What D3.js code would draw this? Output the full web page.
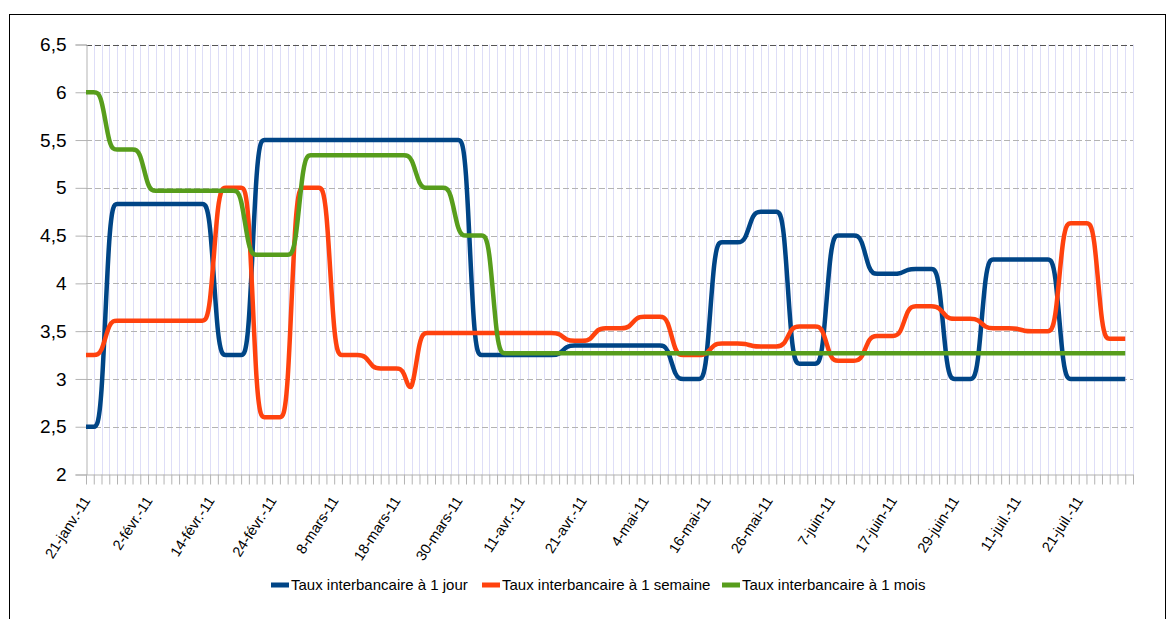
<!DOCTYPE html>
<html>
	<head>
		<title>Taux interbancaires</title>
		<meta charset="UTF-8">
		<style>
			body { margin: 0; background: #fff; }
			text { font-family: "Liberation Sans", Arial, sans-serif; fill: #000; }
		</style>
	</head>
	<body>
		<script src="https://d3js.org/d3.v7.min.js"></script>
		<svg width="1169" height="619"></svg>
		<script>

			// one value per business day, from 21-janv.-11
			var tauxJour = [
				2.5,2.5,2.5,4.83,4.83,4.83,4.83,4.83,4.83,4.83,
				4.83,4.83,4.83,4.83,4.83,4.83,4.83,3.25,3.25,3.25,
				3.25,3.25,5.5,5.5,5.5,5.5,5.5,5.5,5.5,5.5,
				5.5,5.5,5.5,5.5,5.5,5.5,5.5,5.5,5.5,5.5,
				5.5,5.5,5.5,5.5,5.5,5.5,5.5,5.5,5.5,5.5,
				3.25,3.25,3.25,3.25,3.25,3.25,3.25,3.25,3.25,3.25,
				3.25,3.25,3.35,3.35,3.35,3.35,3.35,3.35,3.35,3.35,
				3.35,3.35,3.35,3.35,3.35,3.35,3.0,3.0,3.0,3.0,
				3.0,4.43,4.43,4.43,4.43,4.43,4.75,4.75,4.75,4.75,
				4.75,3.16,3.16,3.16,3.16,3.16,4.5,4.5,4.5,4.5,
				4.5,4.1,4.1,4.1,4.1,4.1,4.15,4.15,4.15,4.15,
				4.15,3.0,3.0,3.0,3.0,3.0,4.25,4.25,4.25,4.25,
				4.25,4.25,4.25,4.25,4.25,4.25,3.0,3.0,3.0,3.0,
				3.0,3.0,3.0,3.0,3.0
			];

			var tauxSemaine = [
				3.25,3.25,3.25,3.61,3.61,3.61,3.61,3.61,3.61,3.61,
				3.61,3.61,3.61,3.61,3.61,3.61,3.61,5.0,5.0,5.0,
				5.0,5.0,2.6,2.6,2.6,2.6,2.6,5.0,5.0,5.0,
				5.0,5.0,3.25,3.25,3.25,3.25,3.25,3.11,3.11,3.11,
				3.11,3.11,2.75,3.48,3.48,3.48,3.48,3.48,3.48,3.48,
				3.48,3.48,3.48,3.48,3.48,3.48,3.48,3.48,3.48,3.48,
				3.48,3.48,3.4,3.4,3.4,3.4,3.53,3.53,3.53,3.53,
				3.53,3.65,3.65,3.65,3.65,3.65,3.25,3.25,3.25,3.25,
				3.25,3.37,3.37,3.37,3.37,3.37,3.34,3.34,3.34,3.34,
				3.34,3.55,3.55,3.55,3.55,3.55,3.19,3.19,3.19,3.19,
				3.19,3.45,3.45,3.45,3.45,3.45,3.76,3.76,3.76,3.76,
				3.76,3.63,3.63,3.63,3.63,3.63,3.53,3.53,3.53,3.53,
				3.53,3.5,3.5,3.5,3.5,3.5,4.63,4.63,4.63,4.63,
				4.63,3.42,3.42,3.42,3.42
			];

			var tauxMois = [
				6.0,6.0,6.0,5.4,5.4,5.4,5.4,5.4,4.97,4.97,
				4.97,4.97,4.97,4.97,4.97,4.97,4.97,4.97,4.97,4.97,
				4.97,4.3,4.3,4.3,4.3,4.3,4.3,4.3,5.34,5.34,
				5.34,5.34,5.34,5.34,5.34,5.34,5.34,5.34,5.34,5.34,
				5.34,5.34,5.34,5.0,5.0,5.0,5.0,5.0,4.5,4.5,
				4.5,4.5,4.5,3.27,3.27,3.27,3.27,3.27,3.27,3.27,
				3.27,3.27,3.27,3.27,3.27,3.27,3.27,3.27,3.27,3.27,
				3.27,3.27,3.27,3.27,3.27,3.27,3.27,3.27,3.27,3.27,
				3.27,3.27,3.27,3.27,3.27,3.27,3.27,3.27,3.27,3.27,
				3.27,3.27,3.27,3.27,3.27,3.27,3.27,3.27,3.27,3.27,
				3.27,3.27,3.27,3.27,3.27,3.27,3.27,3.27,3.27,3.27,
				3.27,3.27,3.27,3.27,3.27,3.27,3.27,3.27,3.27,3.27,
				3.27,3.27,3.27,3.27,3.27,3.27,3.27,3.27,3.27,3.27,
				3.27,3.27,3.27,3.27,3.27
			];

			// labels every 8th business day
			var dateLabels = ["21-janv.-11", "2-févr.-11", "14-févr.-11", "24-févr.-11", "8-mars-11",
				"18-mars-11", "30-mars-11", "11-avr.-11", "21-avr.-11", "4-mai-11", "16-mai-11",
				"26-mai-11", "7-juin-11", "17-juin-11", "29-juin-11", "11-juil.-11", "21-juil.-11"];
			var labelStep = 8;
			var nbSlots = 135;

			var yTicks = [2, 2.5, 3, 3.5, 4, 4.5, 5, 5.5, 6, 6.5];

			var seriesNames = ["Taux interbancaire à 1 jour", "Taux interbancaire à 1 semaine", "Taux interbancaire à 1 mois"];
			var seriesColors = ["#004586", "#ff420e", "#579d1c"];
			var seriesData = [tauxJour, tauxSemaine, tauxMois];

			var svg = d3.select("svg");

			// outer frame
			svg.append("rect")
				.attr("x", 9.5).attr("y", 14.5)
				.attr("width", 1156).attr("height", 700)
				.attr("fill", "none").attr("stroke", "#000");

			var plotLeft = 86, plotRight = 1133, plotTop = 44.5, plotBottom = 474.5;

			var xScale = d3.scaleLinear().domain([0, nbSlots]).range([plotLeft, plotRight]);
			var yScale = d3.scaleLinear().domain([2, 6.5]).range([plotBottom, plotTop]);

			// vertical day grid
			svg.append("g")
				.selectAll("line")
				.data(d3.range(1, nbSlots + 1))
				.enter().append("line")
				.attr("x1", function(d) { return Math.round(xScale(d)) + 0.5; })
				.attr("x2", function(d) { return Math.round(xScale(d)) + 0.5; })
				.attr("y1", plotTop).attr("y2", plotBottom)
				.attr("stroke", "#dedef7");

			// horizontal dashed grid
			svg.append("g")
				.selectAll("line")
				.data(yTicks.slice(1))
				.enter().append("line")
				.attr("x1", plotLeft).attr("x2", plotRight)
				.attr("y1", function(d) { return Math.round(yScale(d)) + 0.5; })
				.attr("y2", function(d) { return Math.round(yScale(d)) + 0.5; })
				.attr("stroke", function(d) { return d == 6.5 ? "#555" : "#b3b3b3"; })
				.attr("stroke-dasharray", "6,3");

			// y axis
			var yAxis = svg.append("g")
				.attr("transform", "translate(" + (plotLeft + 0.5) + ",0)")
				.call(d3.axisLeft(yScale).tickValues(yTicks).tickSize(11).tickPadding(9)
					.tickFormat(function(d) { return String(d).replace(".", ","); }));
			yAxis.select(".domain").attr("stroke", "#b3b3b3");
			yAxis.selectAll(".tick line").attr("stroke", "#b3b3b3");
			yAxis.selectAll(".tick text")
				.style("font-family", "'Liberation Sans', Arial, sans-serif")
				.style("font-size", "19px")
				.attr("fill", "#000");

			// x axis: one tick per business day
			var xAxis = svg.append("g")
				.attr("transform", "translate(0," + plotBottom + ")")
				.call(d3.axisBottom(xScale).tickValues(d3.range(0, nbSlots + 1)).tickSize(10).tickSizeOuter(0)
					.tickFormat(""));
			xAxis.select(".domain").attr("stroke", "#b3b3b3");
			xAxis.selectAll(".tick line").attr("stroke", "#b3b3b3");

			svg.append("g")
				.selectAll("text")
				.data(dateLabels)
				.enter().append("text")
				.attr("transform", function(d, i) {
					return "translate(" + (xScale(i * labelStep) + 5) + "," + (plotBottom + 26) + ") rotate(-57)";
				})
				.style("text-anchor", "end")
				.style("font-size", "14.5px")
				.text(function(d) { return d; });

			// series
			var line = d3.line()
				.x(function(d, i) { return xScale(i); })
				.y(function(d) { return yScale(d); })
				.curve(d3.curveBasis);

			svg.append("g")
				.selectAll("path")
				.data(seriesData)
				.enter().append("path")
				.attr("d", line)
				.attr("fill", "none")
				.attr("stroke", function(d, i) { return seriesColors[i]; })
				.attr("stroke-width", 4.5)
				.attr("stroke-linejoin", "round");

			// legend
			var legendX = [271, 482, 722];
			var legend = svg.append("g")
				.selectAll("g")
				.data(seriesNames)
				.enter().append("g")
				.attr("transform", function(d, i) { return "translate(" + legendX[i] + ",585)"; });
			legend.append("rect")
				.attr("x", 0).attr("y", -2.5)
				.attr("width", 18).attr("height", 5)
				.attr("fill", function(d, i) { return seriesColors[i]; });
			legend.append("text")
				.attr("x", 20).attr("y", 5)
				.style("font-size", "15px")
				.text(function(d) { return d; });

		</script>
	</body>
</html>
